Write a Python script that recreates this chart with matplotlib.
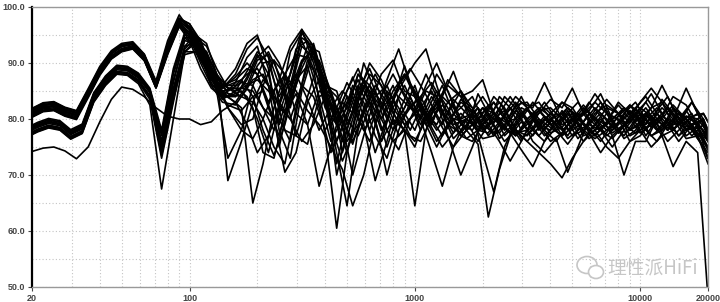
import matplotlib.pyplot as plt
from matplotlib.patches import Ellipse

# two measurement grids (1/6 octave, the second one shifted by 1/12 octave)
freq_a = [20, 22.4, 25, 28, 31.5, 35.5, 40, 45, 50, 56, 63, 71, 80, 90,
          100, 112, 125, 140, 160, 180, 200, 224, 250, 280, 315, 355, 400, 450, 500, 560, 630, 710, 800, 900,
          1000, 1120, 1250, 1400, 1600, 1800, 2000, 2240, 2500, 2800, 3150, 3550, 4000, 4500, 5000, 5600, 6300, 7100, 8000, 9000,
          10000, 11200, 12500, 14000, 16000, 18000, 20000]
freq_b = [20, 21.2, 23.7, 26.6, 29.7, 33.4, 37.6, 42.4, 47.6, 53.0, 59.3, 66.7, 75.2, 84.8, 95.3,
          106, 119, 132, 148, 170, 191, 212, 237, 265, 297, 334, 376, 424, 477, 530, 593, 667, 752, 848, 954,
          1060, 1187, 1324, 1483, 1695, 1907, 2119, 2373, 2649, 2967, 3337, 3761, 4238, 4768, 5297, 5933, 6675, 7522, 8476, 9535,
          10595, 11867, 13243, 14833, 16951, 19070, 20000]

# upper bundle (grid a)
a01 = [81.5, 82.5, 82.7, 81.7, 81.1, 84.7, 88.6, 91.2, 92.4, 92.8, 91.0, 86.3, 92.0, 97.0,
       95.0, 90.5, 87.0, 85.5, 88.0, 92.5, 94.5, 91.0, 83.0, 80.0, 86.0, 84.0, 78.0, 82.0, 86.5, 83.0, 78.0, 84.0, 88.0, 84.0,
       81.0, 85.0, 84.0, 79.0, 77.5, 80.0, 82.0, 81.0, 78.5, 77.0, 79.5, 81.5, 82.0, 80.0, 77.0, 78.0, 81.0, 82.5, 81.0, 78.0,
       79.0, 82.0, 83.0, 80.5, 78.0, 79.5, 76.0]
a02 = [80.6, 81.6, 81.8, 80.8, 80.2, 84.6, 88.8, 91.7, 93.0, 93.5, 91.3, 85.8, 93.0, 97.8,
       96.5, 93.0, 88.5, 85.0, 84.0, 87.5, 91.5, 88.0, 79.0, 86.0, 94.5, 93.0, 85.0, 76.0, 81.0, 88.0, 85.0, 80.0, 83.5, 87.0,
       90.0, 92.5, 86.0, 80.0, 82.0, 84.0, 80.0, 77.0, 79.0, 82.5, 83.0, 80.0, 77.5, 78.5, 81.0, 79.0, 77.0, 79.5, 83.0, 81.0,
       78.0, 79.0, 83.5, 81.0, 77.0, 78.5, 75.0]
a03 = [81.0, 82.0, 82.2, 81.2, 80.6, 84.0, 88.0, 90.8, 92.1, 92.6, 90.5, 85.5, 91.5, 96.5,
       94.0, 89.0, 85.5, 84.0, 86.5, 91.0, 93.0, 86.0, 75.0, 84.0, 95.5, 92.0, 86.0, 70.0, 78.0, 85.0, 89.0, 84.0, 79.0, 82.0,
       86.0, 80.0, 76.0, 79.0, 83.5, 82.0, 78.0, 80.0, 81.5, 78.0, 76.0, 78.5, 81.0, 83.0, 81.0, 78.0, 76.5, 78.0, 80.5, 82.5,
       80.0, 77.0, 78.0, 81.5, 80.0, 76.5, 74.0]
a04 = [81.8, 82.8, 83.0, 82.0, 81.4, 85.2, 89.2, 92.0, 93.3, 93.6, 91.5, 86.5, 93.5, 98.0,
       97.0, 94.0, 89.0, 86.0, 87.0, 89.0, 88.0, 83.0, 87.0, 93.0, 96.0, 90.0, 82.0, 79.0, 84.0, 80.0, 76.0, 82.0, 86.0, 81.0,
       78.0, 83.0, 88.0, 85.0, 79.0, 78.0, 81.0, 83.0, 80.0, 77.5, 78.0, 81.0, 83.5, 82.0, 85.5, 81.0, 78.0, 79.0, 81.0, 79.5,
       81.5, 84.5, 81.0, 78.0, 80.5, 80.0, 77.5]
a05 = [80.3, 81.3, 81.5, 80.5, 79.9, 83.8, 87.8, 90.7, 92.0, 92.5, 90.4, 85.6, 92.0, 97.2,
       95.5, 91.5, 86.0, 83.0, 82.5, 85.5, 89.5, 92.0, 88.0, 82.0, 90.0, 93.0, 86.0, 80.0, 74.0, 83.0, 88.0, 86.0, 81.0, 78.0,
       75.0, 81.0, 85.0, 82.0, 77.0, 76.0, 79.0, 81.0, 79.5, 80.0, 82.0, 79.0, 76.0, 77.5, 80.0, 78.0, 80.5, 83.5, 81.0, 77.0,
       78.0, 80.5, 79.0, 78.0, 81.5, 78.5, 73.0]
a06 = [81.2, 82.2, 82.4, 81.4, 80.8, 84.9, 88.9, 91.7, 93.0, 93.4, 91.3, 86.2, 92.8, 97.6,
       96.0, 92.0, 87.5, 86.0, 89.0, 93.5, 95.0, 89.0, 78.0, 73.0, 85.0, 92.0, 87.0, 81.0, 85.0, 89.0, 84.0, 78.0, 82.0, 86.0,
       82.0, 79.0, 83.0, 86.0, 84.0, 85.0, 87.0, 81.0, 77.0, 79.0, 82.0, 83.0, 80.0, 78.0, 79.5, 82.0, 80.0, 78.0, 79.0, 82.5,
       81.0, 78.5, 80.0, 82.5, 80.0, 77.0, 76.5]
a07 = [80.8, 81.8, 82.0, 81.0, 80.4, 84.2, 88.2, 91.0, 92.3, 92.8, 90.8, 85.9, 91.8, 96.8,
       94.5, 90.0, 86.0, 85.0, 85.5, 84.0, 80.0, 74.0, 82.0, 92.0, 95.5, 92.0, 83.0, 72.0, 80.0, 86.0, 82.0, 76.0, 80.0, 78.0,
       64.5, 78.0, 83.0, 77.0, 70.0, 75.0, 80.0, 84.0, 82.0, 78.0, 77.0, 80.0, 78.5, 77.0, 80.5, 81.0, 83.0, 81.0, 77.5, 78.0,
       81.0, 80.0, 77.0, 78.0, 80.5, 79.0, 74.5]
a08 = [81.6, 82.6, 82.8, 81.8, 81.2, 84.3, 88.3, 91.1, 92.4, 92.9, 91.4, 86.4, 93.2, 98.0,
       96.5, 92.5, 88.0, 84.5, 83.0, 86.0, 90.5, 91.5, 86.0, 83.0, 89.0, 93.5, 86.0, 84.0, 80.0, 77.0, 82.0, 88.0, 90.5, 85.0,
       84.0, 80.0, 82.0, 87.0, 84.0, 79.0, 76.5, 77.0, 81.0, 84.0, 82.0, 78.0, 80.0, 81.0, 78.0, 79.5, 82.0, 80.0, 77.5, 80.0,
       83.0, 85.5, 83.0, 79.0, 79.5, 81.0, 78.0]
a09 = [80.4, 81.4, 81.6, 80.6, 80.0, 84.8, 88.8, 91.6, 92.9, 93.3, 90.7, 85.7, 92.2, 97.0,
       95.0, 91.0, 86.5, 83.5, 85.0, 88.5, 92.0, 90.0, 84.0, 88.0, 94.0, 89.0, 77.0, 60.5, 74.0, 82.0, 86.0, 83.0, 78.0, 81.0,
       83.0, 88.0, 84.0, 79.0, 81.0, 79.0, 80.0, 83.0, 80.0, 77.0, 80.0, 81.5, 79.0, 80.0, 81.0, 77.0, 78.0, 81.0, 80.0, 76.0,
       77.0, 79.5, 82.0, 80.0, 76.5, 77.0, 72.0]
a10 = [81.1, 82.1, 82.3, 81.3, 80.7, 85.0, 89.0, 91.8, 93.1, 93.5, 91.1, 86.1, 93.0, 97.9,
       97.0, 93.5, 89.0, 86.0, 86.0, 88.0, 89.0, 86.0, 80.0, 76.0, 86.0, 93.0, 86.0, 85.0, 79.0, 84.0, 90.0, 87.0, 82.0, 79.0,
       81.0, 86.0, 90.0, 85.0, 80.0, 81.0, 78.0, 79.5, 84.0, 82.0, 78.0, 79.0, 81.0, 79.0, 80.0, 82.5, 80.0, 77.0, 79.0, 81.5,
       80.0, 82.0, 86.0, 82.0, 78.0, 78.5, 76.0]
a11 = [80.5, 81.5, 81.7, 80.7, 80.1, 84.1, 88.1, 90.9, 92.2, 92.7, 90.6, 85.6, 91.7, 96.6,
       95.5, 92.0, 87.0, 84.0, 84.0, 87.0, 91.0, 93.0, 90.0, 85.0, 90.5, 92.0, 84.0, 74.0, 64.5, 78.0, 85.0, 82.0, 84.0, 88.0,
       85.0, 81.0, 78.0, 81.0, 85.0, 81.0, 74.0, 67.0, 75.0, 79.5, 82.0, 79.0, 78.0, 81.5, 79.0, 76.0, 79.0, 82.0, 81.0, 78.0,
       79.5, 77.0, 78.5, 82.0, 80.0, 77.5, 75.0]
a12 = [81.4, 82.4, 82.6, 81.6, 81.0, 84.5, 88.5, 91.3, 92.6, 93.1, 91.2, 86.3, 92.6, 97.4,
       96.0, 91.5, 87.5, 85.5, 87.5, 90.0, 88.0, 82.0, 77.0, 85.0, 93.0, 91.0, 85.0, 80.0, 83.0, 87.0, 83.0, 76.0, 83.0, 89.5,
       84.0, 79.0, 75.0, 79.0, 83.0, 81.5, 84.0, 81.0, 78.0, 81.5, 80.0, 77.0, 79.5, 83.0, 82.0, 79.0, 77.0, 79.5, 82.5, 80.0,
       77.5, 79.0, 80.5, 84.0, 82.5, 79.0, 77.0]
a13 = [81.9, 82.9, 83.1, 82.1, 81.5, 85.4, 89.4, 92.2, 93.5, 93.8, 91.6, 86.8, 94.0, 98.6,
       96.0, 94.0, 89.0, 86.0, 85.0, 86.0, 87.0, 85.0, 83.0, 88.0, 96.0, 93.0, 85.0, 79.0, 82.0, 88.0, 86.0, 80.0, 85.0, 88.0,
       84.0, 81.0, 79.0, 83.0, 85.0, 82.0, 79.0, 77.5, 80.5, 83.0, 80.0, 82.0, 80.5, 77.0, 78.5, 81.0, 84.5, 81.5, 78.0, 79.5,
       82.0, 80.5, 78.0, 80.0, 85.5, 81.0, 77.5]

# middle bundle (grid b)
b01 = [78.6, 79.1, 79.8, 79.4, 77.8, 78.8, 84.4, 87.4, 89.4, 89.2, 87.9, 85.0, 77.0, 88.0, 94.5,
       94.5, 91.5, 86.0, 82.0, 79.0, 80.0, 86.0, 90.5, 88.0, 81.0, 79.0, 85.0, 84.0, 80.0, 76.0, 81.0, 86.0, 83.0, 77.0, 80.0,
       84.0, 86.5, 83.0, 79.0, 80.0, 78.0, 80.5, 83.0, 80.0, 76.5, 78.0, 80.5, 79.0, 81.0, 83.0, 80.0, 78.0, 80.5, 79.0, 77.5,
       80.0, 82.0, 79.5, 77.0, 80.0, 78.0, 76.0]
b02 = [77.5, 78.0, 78.7, 78.3, 76.7, 77.7, 83.3, 86.3, 88.3, 88.1, 86.8, 84.0, 74.0, 85.0, 93.0,
       95.0, 93.5, 88.0, 69.0, 76.0, 83.0, 87.0, 85.0, 78.0, 77.0, 84.0, 90.5, 85.0, 74.0, 80.0, 87.0, 82.5, 75.0, 81.0, 86.0,
       82.0, 79.0, 84.0, 82.0, 78.0, 80.0, 82.5, 80.0, 80.5, 84.0, 80.0, 77.0, 79.0, 82.0, 80.0, 81.5, 84.5, 80.0, 76.5, 78.0,
       81.0, 79.0, 82.0, 80.0, 78.0, 80.0, 77.0]
b03 = [78.2, 78.7, 79.4, 79.0, 77.4, 78.4, 84.0, 87.0, 89.0, 88.8, 87.5, 84.7, 75.0, 84.5, 92.0,
       93.5, 92.0, 85.0, 73.0, 78.0, 86.0, 90.0, 90.5, 84.0, 77.0, 75.5, 84.0, 85.0, 79.0, 70.0, 77.0, 84.0, 86.0, 81.0, 77.0,
       76.0, 80.0, 82.5, 80.0, 76.5, 78.0, 77.5, 81.0, 84.0, 81.0, 78.0, 76.0, 78.5, 81.5, 78.0, 79.0, 78.0, 76.5, 79.0, 81.0,
       78.0, 76.0, 79.0, 81.0, 78.0, 75.0, 73.0]
b04 = [78.9, 79.4, 80.1, 79.7, 78.1, 79.1, 84.7, 87.7, 89.6, 89.4, 88.2, 85.5, 78.0, 89.0, 95.5,
       95.0, 90.5, 86.0, 84.0, 82.0, 65.0, 72.0, 82.0, 88.0, 91.5, 91.0, 84.0, 76.0, 80.0, 86.0, 83.0, 77.0, 73.0, 80.0, 84.0,
       80.0, 84.0, 81.0, 76.5, 79.0, 82.0, 79.0, 80.0, 77.5, 74.5, 71.5, 76.0, 80.0, 82.0, 80.5, 78.0, 80.0, 77.5, 79.0, 82.0,
       84.0, 81.0, 78.0, 80.0, 83.0, 80.0, 78.0]
b05 = [77.3, 77.8, 78.5, 78.1, 76.5, 77.5, 83.1, 86.1, 88.1, 87.9, 86.6, 83.5, 73.0, 83.0, 92.5,
       94.5, 93.0, 89.0, 85.5, 84.0, 83.0, 80.0, 75.0, 72.0, 82.0, 90.5, 87.0, 79.0, 72.5, 77.0, 84.0, 88.0, 84.0, 79.0, 82.0,
       84.0, 80.0, 77.0, 80.0, 79.5, 76.0, 79.0, 84.0, 82.0, 78.0, 80.0, 82.0, 80.0, 76.5, 78.0, 81.0, 79.5, 78.0, 81.0, 83.0,
       80.0, 78.0, 80.0, 79.0, 81.0, 76.0, 74.5]
b06 = [78.0, 78.5, 79.2, 78.8, 77.2, 78.2, 83.8, 86.8, 88.8, 88.6, 87.3, 84.8, 76.0, 87.0, 94.0,
       93.5, 90.0, 86.5, 85.0, 86.5, 86.0, 82.0, 78.0, 84.0, 92.5, 94.0, 88.0, 79.0, 83.0, 87.5, 82.0, 74.0, 80.0, 86.0, 83.0,
       78.0, 82.0, 86.0, 81.0, 78.0, 84.5, 81.0, 76.5, 78.5, 82.0, 81.0, 78.0, 81.0, 79.5, 76.5, 79.0, 81.0, 78.5, 80.0, 82.0,
       79.0, 81.5, 84.0, 80.0, 77.0, 79.0, 77.0]
b07 = [77.7, 78.2, 78.9, 78.5, 76.9, 77.9, 83.5, 86.5, 88.5, 88.3, 87.0, 84.2, 74.5, 84.0, 92.0,
       92.0, 89.5, 85.5, 82.5, 81.5, 84.0, 85.0, 80.0, 70.5, 74.0, 83.0, 87.0, 82.0, 76.0, 81.0, 90.0, 85.0, 78.0, 74.5, 80.0,
       82.0, 78.5, 75.0, 77.5, 82.0, 80.0, 77.0, 79.5, 82.0, 80.0, 76.0, 74.0, 76.5, 70.5, 75.0, 80.0, 83.0, 79.5, 77.0, 80.0,
       82.0, 79.0, 76.0, 78.0, 80.5, 81.0, 79.5]
b08 = [78.4, 78.9, 79.6, 79.2, 77.6, 78.6, 84.2, 87.2, 89.2, 89.0, 87.7, 85.2, 77.5, 88.5, 95.0,
       94.5, 91.0, 87.5, 86.0, 87.0, 84.0, 78.0, 73.5, 79.0, 87.0, 89.5, 82.0, 74.0, 78.5, 84.0, 79.0, 69.0, 76.0, 84.0, 82.0,
       80.0, 74.0, 68.0, 75.0, 80.0, 78.0, 79.0, 82.0, 79.0, 76.0, 80.0, 83.0, 80.0, 77.0, 80.0, 78.5, 76.0, 79.0, 82.0, 80.5,
       77.0, 80.0, 82.0, 79.0, 83.0, 79.0, 76.5]
b09 = [77.2, 77.7, 78.4, 78.0, 76.4, 77.4, 83.0, 86.0, 88.0, 87.8, 86.3, 82.5, 67.5, 80.0, 92.0,
       94.0, 92.0, 88.0, 84.5, 84.0, 87.0, 88.0, 84.0, 81.0, 87.0, 93.0, 92.0, 84.0, 79.5, 75.5, 82.0, 85.0, 80.0, 86.0, 89.0,
       86.0, 82.5, 79.0, 83.5, 81.0, 78.0, 80.0, 77.5, 80.0, 83.0, 82.0, 86.5, 82.0, 78.0, 80.0, 83.0, 80.5, 77.0, 79.0, 81.0,
       83.0, 80.0, 78.0, 81.0, 79.0, 76.0, 75.0]
b10 = [78.7, 79.2, 79.9, 79.5, 77.9, 78.9, 84.5, 87.5, 89.5, 89.3, 88.0, 85.3, 75.5, 86.5, 94.5,
       93.0, 89.0, 85.5, 84.0, 85.0, 82.0, 74.0, 73.0, 81.0, 84.5, 79.0, 68.0, 75.0, 83.0, 81.0, 86.0, 80.0, 70.0, 78.0, 83.0,
       79.0, 82.0, 78.5, 75.0, 78.0, 75.5, 62.5, 71.0, 77.0, 79.5, 77.0, 80.0, 78.0, 75.5, 78.0, 81.0, 78.0, 75.0, 78.0, 80.5,
       78.0, 81.0, 79.0, 76.0, 79.0, 80.0, 78.0]
b11 = [77.6, 78.1, 78.8, 78.4, 76.8, 77.8, 83.4, 86.4, 88.4, 88.2, 86.9, 84.0, 73.5, 83.5, 91.5,
       92.0, 90.5, 87.0, 82.0, 78.0, 76.5, 80.0, 85.0, 88.0, 85.0, 81.5, 79.0, 75.0, 71.0, 64.5, 70.0, 79.0, 85.0, 82.0, 78.0,
       82.0, 85.0, 81.0, 77.5, 80.0, 82.0, 79.0, 76.0, 72.5, 76.0, 80.0, 78.0, 76.0, 79.0, 81.0, 77.5, 74.0, 77.0, 70.0, 76.0,
       76.0, 80.0, 78.0, 81.0, 79.0, 75.0, 73.0]
b12 = [78.3, 78.8, 79.5, 79.1, 77.5, 78.5, 84.1, 87.1, 89.1, 88.9, 87.6, 84.9, 75.2, 85.5, 93.0,
       93.5, 91.5, 88.0, 85.5, 85.5, 85.0, 82.0, 80.0, 85.0, 88.0, 83.5, 78.0, 82.0, 85.0, 83.0, 78.0, 81.0, 87.0, 92.5, 86.0,
       83.0, 79.0, 84.0, 88.5, 82.0, 78.5, 81.0, 79.0, 77.5, 80.0, 83.0, 80.5, 78.0, 81.0, 79.0, 76.5, 78.0, 80.0, 82.0, 79.5,
       81.0, 78.0, 80.0, 77.0, 79.0, 81.0, 79.5]

# lowest curve (grid a)
c01 = [74.2, 74.8, 75.0, 74.3, 72.9, 75.0, 79.5, 83.5, 85.7, 85.3, 84.0, 82.0, 80.5, 80.0,
       80.0, 79.0, 79.5, 81.5, 83.0, 79.0, 74.0, 77.0, 82.0, 80.0, 76.0, 79.0, 84.0, 81.0, 76.0, 79.0, 83.0, 80.0, 76.0, 78.0,
       76.0, 80.0, 83.0, 80.0, 77.0, 79.0, 82.0, 79.0, 76.0, 78.0, 76.0, 74.0, 72.0, 69.5, 73.0, 76.0, 78.0, 75.0, 73.0, 76.0,
       78.0, 75.0, 77.0, 71.5, 76.0, 74.0, 48.0]

curves_a = [a01, a02, a03, a04, a05, a06, a07, a08, a09, a10, a11, a12, a13, c01]
curves_b = [b01, b02, b03, b04, b05, b06, b07, b08, b09, b10, b11, b12]

xticks = [20, 100, 1000, 10000, 20000]
xminor = [30, 40, 50, 60, 70, 80, 90, 200, 300, 400, 500, 600, 700, 800, 900,
          2000, 3000, 4000, 5000, 6000, 7000, 8000, 9000]
yticks = [50, 60, 70, 80, 90, 100]
yminor = [55, 65, 75, 85, 95]

fig = plt.figure(figsize=(7.2, 3.02), dpi=100)
ax = fig.add_axes([32/720, 15/302, 676/720, 280/302])

for c in curves_a:
    ax.plot(freq_a, c, color='black', linewidth=1.2, solid_joinstyle='round')
for c in curves_b:
    ax.plot(freq_b, c, color='black', linewidth=1.2, solid_joinstyle='round')

ax.set_xscale('log')
ax.set_xlim(20, 20000)
ax.set_ylim(50, 100)
ax.set_xticks(xticks)
ax.set_xticklabels([str(t) for t in xticks])
ax.set_xticks(xminor, minor=True)
ax.set_xticklabels([], minor=True)
ax.set_yticks(yticks)
ax.set_yticklabels(['%.1f' % t for t in yticks])
ax.set_yticks(yminor, minor=True)

ax.grid(True, which='both', color='#c4c4c4', linestyle=(0, (1, 2)), linewidth=0.8)
ax.set_axisbelow(True)
ax.tick_params(which='major', length=3, width=0.8, color='#444444', pad=2,
               labelsize=6.5, labelcolor='#444444')
ax.tick_params(which='minor', length=0)
for lab in ax.get_xticklabels() + ax.get_yticklabels():
    lab.set_fontfamily('Liberation Sans')
    lab.set_fontweight('bold')

ax.spines['left'].set_color('black')
ax.spines['left'].set_linewidth(1.6)
for s in ['top', 'right', 'bottom']:
    ax.spines[s].set_color('#999999')
    ax.spines[s].set_linewidth(1.0)

# watermark
fig.text(607/720, 1 - 268/302, '理性派HiFi', fontsize=13.5, color='#c6c6c6',
         family=['Noto Sans CJK SC', 'DejaVu Sans'], va='center', ha='left')
fig.add_artist(Ellipse((587/720, 1 - 265/302), 20/720, 17/302, transform=fig.transFigure,
                       fill=False, edgecolor='#c6c6c6', linewidth=1.2))
fig.add_artist(Ellipse((596/720, 1 - 272/302), 15/720, 13/302, transform=fig.transFigure,
                       facecolor='white', edgecolor='#c6c6c6', linewidth=1.2))

plt.savefig('out.png', dpi=100)
